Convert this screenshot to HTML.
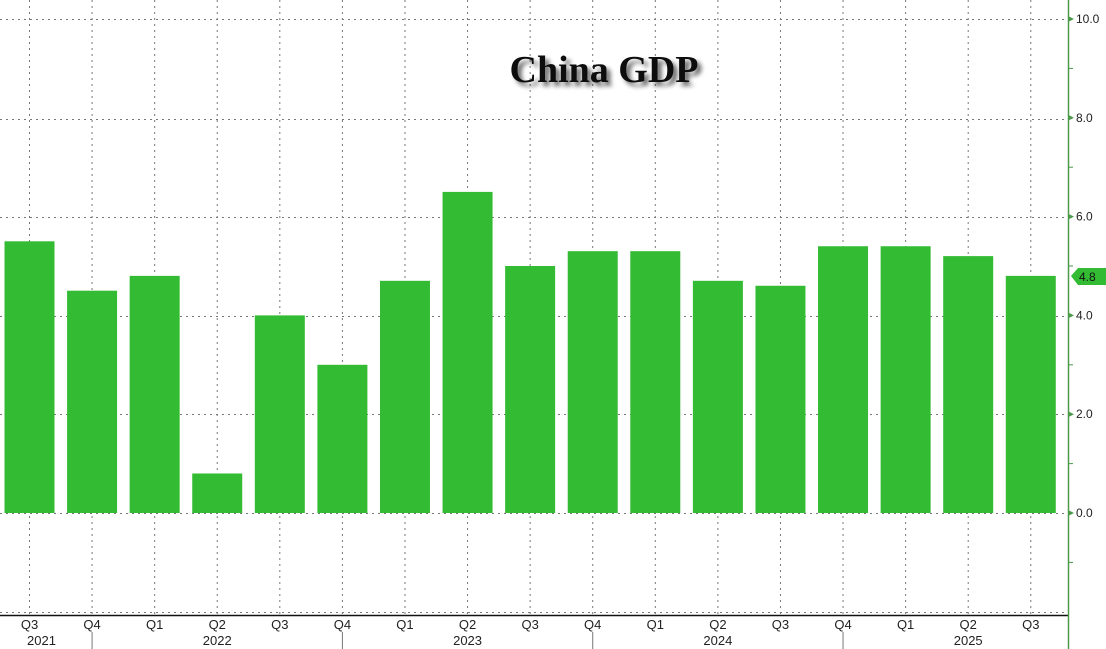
<!DOCTYPE html>
<html><head><style>
body{margin:0;background:#fff;}
svg{display:block;}
</style></head><body>
<svg width="1106" height="649" xmlns="http://www.w3.org/2000/svg" font-family="Liberation Sans, sans-serif">
<defs><filter id="sh" x="-20%" y="-50%" width="140%" height="200%"><feGaussianBlur in="SourceAlpha" stdDeviation="2.5"/><feOffset dx="4" dy="4"/><feComponentTransfer><feFuncA type="linear" slope="0.6"/></feComponentTransfer><feMerge><feMergeNode/><feMergeNode in="SourceGraphic"/></feMerge></filter></defs>
<g stroke="#777" stroke-width="1" stroke-dasharray="2,4">
<line x1="0" y1="19.5" x2="1066" y2="19.5"/>
<line x1="0" y1="119.5" x2="1066" y2="119.5"/>
<line x1="0" y1="217.5" x2="1066" y2="217.5"/>
<line x1="0" y1="316.5" x2="1066" y2="316.5"/>
<line x1="0" y1="414.5" x2="1066" y2="414.5"/>
<line x1="0" y1="513.5" x2="1066" y2="513.5"/>
<line x1="0" y1="612.5" x2="1066" y2="612.5"/>
</g>
<g id="vg" stroke="#777" stroke-width="1" stroke-dasharray="2,4"></g>
<g id="bars" fill="#33bb33"></g>
<text x="604" y="82" text-anchor="middle" font-family="Liberation Serif, serif" font-weight="bold" font-size="38" fill="#111" filter="url(#sh)">China GDP</text>
<line x1="0" y1="615.5" x2="1068" y2="615.5" stroke="#111" stroke-width="1.5"/>
<line x1="1068.5" y1="0" x2="1068.5" y2="649" stroke="#4a9a4a" stroke-width="1.5"/>
<g id="yt" font-size="12" fill="#222"></g>
<g id="xt" font-size="13" fill="#222" text-anchor="middle"></g>
<polygon points="1071,276 1078,268 1106,268 1106,285 1078,285" fill="#33bb33"/>
<text x="1079" y="281" font-size="12" fill="#111">4.8</text>
</svg>
<script>
const ns="http://www.w3.org/2000/svg";
function el(p,t,a,txt){const e=document.createElementNS(ns,t);for(const k in a)e.setAttribute(k,a[k]);if(txt!==undefined)e.textContent=txt;document.getElementById(p).appendChild(e);}
const vals=[5.5,4.5,4.8,0.8,4.0,3.0,4.7,6.5,5.0,5.3,5.3,4.7,4.6,5.4,5.4,5.2,4.8];
const q=["Q3","Q4","Q1","Q2","Q3","Q4","Q1","Q2","Q3","Q4","Q1","Q2","Q3","Q4","Q1","Q2","Q3"];
const yrs={0:"2021",3:"2022",7:"2023",11:"2024",15:"2025"};
const y0=513,s=49.4;
vals.forEach((v,i)=>{const c=29.5+i*62.58;
el("vg","line",{x1:c,y1:0,x2:c,y2:615});
el("bars","rect",{x:c-25,y:y0-v*s,width:50,height:v*s});
el("xt","text",{x:c,y:629},q[i]);
if(yrs[i])el("xt","text",{x:yrs[i]==="2021"?c+12:c,y:645},yrs[i]);
if(q[i]==="Q4")el("xt","line",{x1:c,y1:632,x2:c,y2:649,stroke:"#777"});
});
for(let k=-1;k<=10;k++){const y=y0-k*s;
if(k%2===0&&k>=0){el("yt","polygon",{points:`1068,${y-3} 1074,${y} 1068,${y+3}`,fill:"#4a9a4a"});
el("yt","text",{x:1076,y:y+4},k.toFixed(1));}
else el("yt","line",{x1:1068,y1:y,x2:1073,y2:y,stroke:"#4a9a4a"});}
</script>
</body></html>
